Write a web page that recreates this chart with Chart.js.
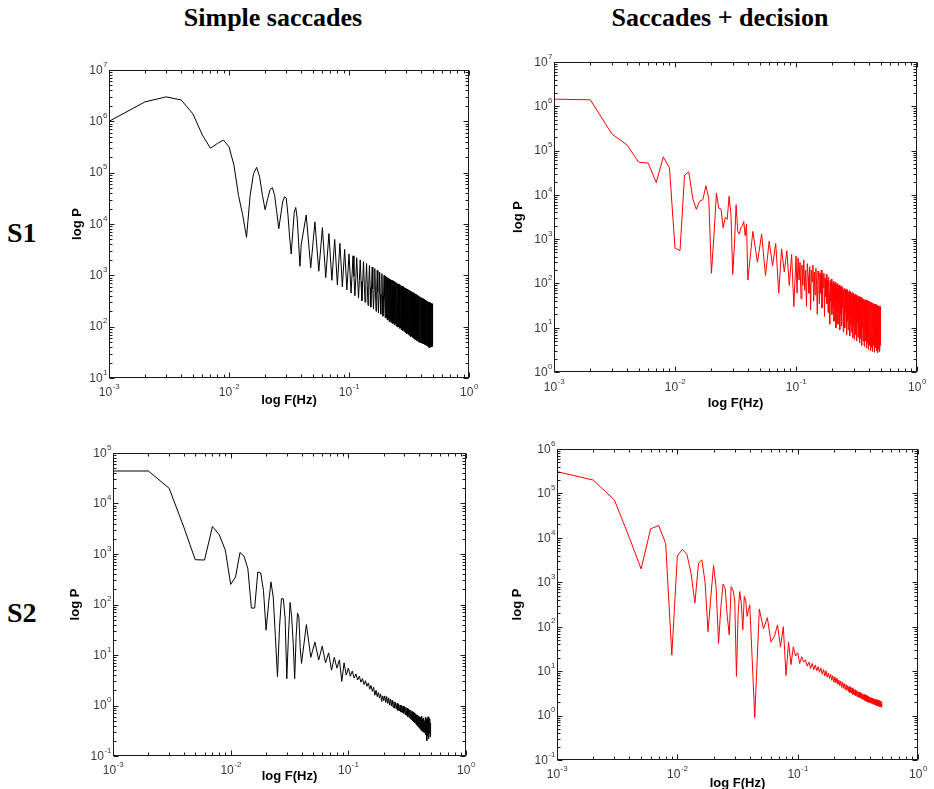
<!DOCTYPE html>
<html>
<head>
<meta charset="utf-8">
<script src="https://cdn.jsdelivr.net/npm/chart.js@4.4.1/dist/chart.umd.min.js"></script>
<style>
html, body { margin: 0; padding: 0; width: 934px; height: 789px; overflow: hidden; background: #fff; }
.head { position: absolute; font-family: "Liberation Serif", "Times New Roman", serif; font-weight: bold;
        font-size: 26px; line-height: 26px; white-space: nowrap; transform: translateX(-50%); color: #000; }
.row { position: absolute; left: 7px; font-family: "Liberation Serif", "Times New Roman", serif; font-weight: bold;
       font-size: 28px; line-height: 28px; color: #000; }
canvas { position: absolute; }
</style>
</head>
<body>
<div class="head" style="left:273px; top:5px">Simple saccades</div>
<div class="head" style="left:720px; top:5px">Saccades + decision</div>
<div class="row" style="top:219px">S1</div>
<div class="row" style="top:599px">S2</div>

<script>
// frequency grids (Hz)
const freqLow = [
    0.001, 0.002, 0.003, 0.004, 0.005, 0.006, 0.007, 0.008, 0.009, 0.010,
    0.011, 0.012, 0.013, 0.014, 0.015, 0.016, 0.017, 0.018, 0.019, 0.020,
    0.021, 0.022, 0.023, 0.024, 0.025, 0.026, 0.027, 0.028, 0.029, 0.030,
    0.031, 0.032, 0.033, 0.034, 0.035, 0.036, 0.037, 0.038, 0.039, 0.040
];
const freqMid = [
    0.044, 0.048, 0.052, 0.056, 0.060, 0.064, 0.068, 0.072, 0.076, 0.080,
    0.084, 0.088, 0.092, 0.096, 0.100
];
// finer grid for the S1 panels, where the trace fills a band
const freqDense = [
    0.102, 0.104, 0.106, 0.108, 0.110, 0.112, 0.114, 0.116, 0.118, 0.120,
    0.122, 0.124, 0.126, 0.128, 0.130, 0.132, 0.134, 0.136, 0.138, 0.140,
    0.142, 0.144, 0.146, 0.148, 0.150, 0.152, 0.154, 0.156, 0.158, 0.160,
    0.162, 0.164, 0.166, 0.168, 0.170, 0.172, 0.174, 0.176, 0.178, 0.180,
    0.182, 0.184, 0.186, 0.188, 0.190, 0.192, 0.194, 0.196, 0.198, 0.200,
    0.202, 0.204, 0.206, 0.208, 0.210, 0.212, 0.214, 0.216, 0.218, 0.220,
    0.222, 0.224, 0.226, 0.228, 0.230, 0.232, 0.234, 0.236, 0.238, 0.240,
    0.242, 0.244, 0.246, 0.248, 0.250, 0.252, 0.254, 0.256, 0.258, 0.260,
    0.262, 0.264, 0.266, 0.268, 0.270, 0.272, 0.274, 0.276, 0.278, 0.280,
    0.282, 0.284, 0.286, 0.288, 0.290, 0.292, 0.294, 0.296, 0.298, 0.300,
    0.302, 0.304, 0.306, 0.308, 0.310, 0.312, 0.314, 0.316, 0.318, 0.320,
    0.322, 0.324, 0.326, 0.328, 0.330, 0.332, 0.334, 0.336, 0.338, 0.340,
    0.342, 0.344, 0.346, 0.348, 0.350, 0.352, 0.354, 0.356, 0.358, 0.360,
    0.362, 0.364, 0.366, 0.368, 0.370, 0.372, 0.374, 0.376, 0.378, 0.380,
    0.382, 0.384, 0.386, 0.388, 0.390, 0.392, 0.394, 0.396, 0.398, 0.400,
    0.402, 0.404, 0.406, 0.408, 0.410, 0.412, 0.414, 0.416, 0.418, 0.420,
    0.422, 0.424, 0.426, 0.428, 0.430, 0.432, 0.434, 0.436, 0.438, 0.440,
    0.442, 0.444, 0.446, 0.448, 0.450, 0.452, 0.454, 0.456, 0.458, 0.460,
    0.462, 0.464, 0.466, 0.468, 0.470, 0.472, 0.474, 0.476, 0.478, 0.480,
    0.482, 0.484, 0.486, 0.488, 0.490, 0.492, 0.494, 0.496, 0.498, 0.500
];
// coarser grid for the S2 panels (0.044 .. 0.5)
const freqHigh = [
    0.044, 0.048, 0.052, 0.056, 0.060, 0.064, 0.068, 0.072, 0.076, 0.080,
    0.084, 0.088, 0.092, 0.096, 0.100, 0.104, 0.108, 0.112, 0.116, 0.120,
    0.124, 0.128, 0.132, 0.136, 0.140, 0.144, 0.148, 0.152, 0.156, 0.160,
    0.164, 0.168, 0.172, 0.176, 0.180, 0.184, 0.188, 0.192, 0.196, 0.200,
    0.204, 0.208, 0.212, 0.216, 0.220, 0.224, 0.228, 0.232, 0.236, 0.240,
    0.244, 0.248, 0.252, 0.256, 0.260, 0.264, 0.268, 0.272, 0.276, 0.280,
    0.284, 0.288, 0.292, 0.296, 0.300, 0.304, 0.308, 0.312, 0.316, 0.320,
    0.324, 0.328, 0.332, 0.336, 0.340, 0.344, 0.348, 0.352, 0.356, 0.360,
    0.364, 0.368, 0.372, 0.376, 0.380, 0.384, 0.388, 0.392, 0.396, 0.400,
    0.404, 0.408, 0.412, 0.416, 0.420, 0.424, 0.428, 0.432, 0.436, 0.440,
    0.444, 0.448, 0.452, 0.456, 0.460, 0.464, 0.468, 0.472, 0.476, 0.480,
    0.484, 0.488, 0.492, 0.496, 0.500
];

// S1, simple saccades (black)
const s1SimpleLow = [
    1.0e6, 2.4e6, 3.0e6, 2.6e6, 1.4e6, 5.4e5, 3.0e5, 3.7e5, 4.3e5, 3.2e5,
    1.4e5, 3.6e4, 1.5e4, 5.5e3, 3.6e4, 9.5e4, 1.27e5, 8.3e4, 3.6e4, 1.9e4,
    3.1e4, 4.7e4, 5.1e4, 3.6e4, 1.7e4, 8.1e3, 1.5e4, 2.7e4, 3.4e4, 3.2e4,
    1.5e4, 5.6e3, 2.6e3, 7.0e3, 1.7e4, 2.1e4, 1.3e4, 4.5e3, 1.5e3, 4.0e3
];
const s1SimpleMid = [
    1.5e4, 1.4e3, 1.1e4, 1.2e3, 8.5e3, 900, 6.5e3, 800, 5.0e3, 650,
    4.2e3, 600, 3.2e3, 520, 2.6e3
];
const s1SimpleDense = [
    1.1e3, 450, 1.0e3, 2.4e3, 950, 400, 900, 2.2e3, 850, 360,
    800, 2.0e3, 760, 320, 720, 1.85e3, 700, 300, 660, 1.7e3,
    640, 260, 620, 1.55e3, 580, 240, 560, 1.45e3, 540, 220,
    520, 1.35e3, 500, 200, 480, 1.25e3, 460, 185, 440, 1.15e3,
    430, 175, 410, 1.08e3, 400, 160, 380, 1.0e3, 370, 150,
    960, 150, 930, 135, 900, 140, 880, 125, 850, 130,
    830, 120, 810, 128, 790, 115, 770, 118, 750, 108,
    735, 112, 720, 102, 700, 106, 690, 98, 675, 100,
    660, 92, 650, 96, 635, 88, 620, 90, 610, 84,
    600, 86, 590, 80, 575, 82, 565, 76, 555, 78,
    545, 72, 535, 75, 525, 70, 515, 72, 505, 67,
    498, 69, 490, 64, 480, 66, 472, 62, 465, 63,
    458, 59, 450, 61, 443, 57, 436, 58, 430, 55,
    423, 56, 416, 53, 410, 55, 404, 51, 398, 53,
    392, 50, 386, 52, 380, 49, 375, 50, 370, 48,
    364, 49, 359, 47, 354, 48, 349, 46, 344, 47,
    339, 45, 335, 46, 330, 44, 326, 45, 322, 43,
    318, 44, 314, 42, 310, 43, 306, 41, 303, 42,
    300, 40, 297, 42, 294, 39, 291, 41, 288, 40,
    286, 42, 284, 40, 282, 44, 280, 41, 278, 45
];

// S1, saccades + decision (red)
const s1DecisionLow = [
    1.45e6, 1.4e6, 2.4e5, 1.35e5, 5.5e4, 5.2e4, 1.9e4, 7.2e4, 4.1e4, 630,
    550, 2.8e4, 3.3e4, 8.5e3, 4.7e3, 7.2e3, 7.8e3, 1.6e4, 8.5e3, 170,
    1.25e3, 1.1e4, 5.0e3, 4.8e3, 1.8e3, 3.1e3, 2.8e3, 9.3e3, 3.6e3, 160,
    750, 6.0e3, 1.5e3, 1.3e3, 1.8e3, 2.0e3, 2.5e3, 1.2e3, 2.2e3, 120
];
const s1DecisionMid = [
    1.5e3, 300, 1.3e3, 150, 900, 250, 800, 60, 600, 180,
    550, 90, 450, 30, 420
];
const s1DecisionDense = [
    60, 380, 120, 300, 45, 260, 90, 340, 70, 200,
    30, 280, 150, 60, 240, 25, 200, 110, 260, 40,
    180, 55, 220, 90, 20, 190, 140, 35, 170, 60,
    200, 28, 150, 80, 170, 18, 130, 50, 160, 35,
    120, 22, 140, 60, 12, 115, 40, 125, 20, 100,
    30, 110, 14, 95, 45, 105, 10, 90, 25, 98,
    12, 85, 35, 92, 9, 80, 20, 88, 11, 75,
    28, 82, 8, 72, 16, 78, 10, 70, 22, 74,
    7, 66, 14, 72, 9, 64, 18, 68, 6.5, 62,
    12, 65, 8, 58, 20, 62, 6, 56, 11, 60,
    5.5, 54, 15, 57, 7, 52, 10, 55, 5, 50,
    13, 53, 6, 48, 9, 51, 4.5, 47, 12, 49,
    5.5, 45, 8, 48, 4, 44, 10, 46, 5, 42,
    7, 44, 3.8, 41, 9, 43, 5, 40, 6.5, 42,
    3.5, 39, 8, 41, 4.5, 38, 6, 40, 3.2, 37,
    7, 39, 4, 36, 5.5, 38, 3, 35, 6.5, 37,
    3.6, 35, 5, 36, 2.9, 34, 6, 35, 4, 33,
    5, 34, 2.8, 33, 4.5, 34, 3.5, 32, 5.5, 33,
    3, 32, 4.2, 31, 2.7, 32, 5, 30, 3.3, 31,
    4.5, 30, 2.9, 31, 3.8, 29, 3.1, 30, 4, 28
];

// S2, simple saccades (black)
const s2SimpleLow = [
    4.4e4, 4.4e4, 2.0e4, 3.4e3, 770, 760, 3.5e3, 2.4e3, 1.2e3, 250,
    350, 1.07e3, 900, 510, 85, 85, 440, 420, 190, 31,
    105, 280, 140, 23, 3.7, 35, 130, 130, 56, 3.4,
    25, 110, 56, 17, 3.4, 23, 68, 56, 14, 6.8
];
const s2SimpleHigh = [
    40, 9, 18, 8, 15, 7, 11, 5, 9, 5.5,
    8, 3, 7, 4, 5.5, 3.8, 4.8, 3.5, 4.2, 3.2,
    3.8, 2.9, 3.4, 2.6, 3.1, 2.4, 2.8, 2.1, 2.5, 1.9,
    2.3, 1.6, 2.0, 1.5, 1.8, 1.4, 1.7, 1.2, 1.55, 1.25,
    1.55, 1.15, 1.5, 1.1, 1.42, 1.02, 1.35, 0.98, 1.28, 0.92,
    1.2, 0.88, 1.15, 0.85, 1.1, 0.8, 1.05, 0.78, 1.02, 0.74,
    1.0, 0.72, 0.97, 0.7, 0.95, 0.66, 0.92, 0.64, 0.88, 0.6,
    0.85, 0.58, 0.82, 0.55, 0.8, 0.52, 0.76, 0.5, 0.74, 0.48,
    0.7, 0.45, 0.68, 0.42, 0.66, 0.4, 0.64, 0.38, 0.62, 0.36,
    0.6, 0.34, 0.58, 0.32, 0.62, 0.31, 0.55, 0.3, 0.57, 0.29,
    0.5, 0.3, 0.58, 0.26, 0.52, 0.2, 0.55, 0.25, 0.6, 0.22,
    0.5, 0.28, 0.55, 0.24, 0.45
];

// S2, saccades + decision (red)
const s2DecisionLow = [
    3.1e5, 2.0e5, 7.1e4, 1.0e4, 2.0e3, 1.6e4, 1.9e4, 7.5e3, 23, 3.9e3,
    5.5e3, 4.3e3, 1.6e3, 340, 2.7e3, 3.2e3, 1.0e3, 78, 480, 2.4e3,
    790, 42, 280, 910, 720, 170, 65, 800, 670, 400,
    7.6, 200, 620, 340, 85, 480, 400, 170, 240, 310
];
const s2DecisionHigh = [
    0.9, 250, 90, 160, 45, 60, 110, 35, 100, 8,
    45, 14, 35, 22, 26, 15, 21, 16, 18, 13,
    16, 11.4, 15, 10.8, 13.8, 10.2, 12.6, 9.4, 11.8, 8.5,
    10.9, 7.8, 10.2, 7.3, 9.1, 6.8, 8.5, 6.2, 7.9, 5.6,
    7.4, 5.4, 7.0, 5.0, 6.3, 4.7, 6.0, 4.3, 5.6, 4.1,
    5.3, 3.9, 5.0, 3.7, 4.7, 3.5, 4.5, 3.3, 4.3, 3.2,
    4.2, 3.0, 3.9, 2.9, 3.8, 2.8, 3.6, 2.65, 3.5, 2.6,
    3.4, 2.5, 3.3, 2.4, 3.2, 2.35, 3.05, 2.3, 3.0, 2.2,
    2.9, 2.15, 2.85, 2.05, 2.75, 2.0, 2.7, 1.95, 2.6, 1.95,
    2.55, 1.9, 2.5, 1.85, 2.45, 1.8, 2.4, 1.78, 2.35, 1.75,
    2.3, 1.7, 2.3, 1.68, 2.25, 1.65, 2.2, 1.62, 2.15, 1.6,
    2.12, 1.58, 2.1, 1.55, 2.05
];

// axis ranges as powers of ten
const xExpRange = [-3, 0];
const s1SimpleYExp = [1, 7];
const s1DecisionYExp = [0, 7];
const s2SimpleYExp = [-1, 5];
const s2DecisionYExp = [-1, 6];

const xTitle = 'log F(Hz)';
const yTitle = 'log P';

const LABEL_FONT = '"Liberation Sans", Arial, sans-serif';

// draws "10" with a raised exponent
function powLabel(ctx, exp, x, y, align) {
    ctx.font = '12px ' + LABEL_FONT;
    const wb = ctx.measureText('10').width;
    ctx.font = '8px ' + LABEL_FONT;
    const es = String(exp);
    const we = ctx.measureText(es).width;
    const left = align === 'center' ? x - (wb + we) / 2 : x - wb - we;
    ctx.textAlign = 'left';
    ctx.textBaseline = 'middle';
    ctx.font = '12px ' + LABEL_FONT;
    ctx.fillText('10', left, y);
    ctx.font = '8px ' + LABEL_FONT;
    ctx.fillText(es, left + wb + 0.5, y - 6);
}

// matlab-like box with inward ticks and 10^n labels
const framePlugin = {
    id: 'frame',
    afterDraw(chart, args, opts) {
        const { ctx, chartArea: a } = chart;
        const xs = chart.scales.x, ys = chart.scales.y;
        const L = Math.round(a.left) + 0.5, R = Math.round(a.right) - 0.5;
        const T = Math.round(a.top) + 0.5, B = Math.round(a.bottom) - 0.5;
        ctx.save();
        ctx.strokeStyle = '#1a1a1a';
        ctx.lineWidth = 1;
        ctx.strokeRect(L, T, R - L, B - T);

        ctx.beginPath();
        for (let e = xExpRange[0]; e <= xExpRange[1]; e++) {
            for (let m = 1; m <= 9; m++) {
                const v = m * Math.pow(10, e);
                if (v < xs.min * 0.999 || v > xs.max * 1.001) continue;
                const px = Math.round(xs.getPixelForValue(v)) + 0.5;
                const len = m === 1 ? 5 : 3;
                ctx.moveTo(px, B); ctx.lineTo(px, B - len);
                ctx.moveTo(px, T); ctx.lineTo(px, T + len);
            }
        }
        for (let e = opts.yExp[0]; e <= opts.yExp[1]; e++) {
            for (let m = 1; m <= 9; m++) {
                const v = m * Math.pow(10, e);
                if (v < ys.min * 0.999 || v > ys.max * 1.001) continue;
                const py = Math.round(ys.getPixelForValue(v)) + 0.5;
                const len = m === 1 ? 5 : 3;
                ctx.moveTo(L, py); ctx.lineTo(L + len, py);
                ctx.moveTo(R, py); ctx.lineTo(R - len, py);
            }
        }
        ctx.stroke();

        ctx.fillStyle = '#3a3a3a';
        for (let e = xExpRange[0]; e <= xExpRange[1]; e++) {
            powLabel(ctx, e, xs.getPixelForValue(Math.pow(10, e)), a.bottom + opts.xLabelGap, 'center');
        }
        for (let e = opts.yExp[0]; e <= opts.yExp[1]; e++) {
            powLabel(ctx, e, a.left - 2, ys.getPixelForValue(Math.pow(10, e)) + 0.5, 'right');
        }

        ctx.fillStyle = '#000';
        ctx.font = 'bold 13px ' + LABEL_FONT;
        ctx.textAlign = 'center';
        ctx.textBaseline = 'middle';
        ctx.fillText(xTitle, (a.left + a.right) / 2, a.bottom + opts.xTitleGap);
        ctx.translate(a.left - opts.yTitleGap, (a.top + a.bottom) / 2);
        ctx.rotate(-Math.PI / 2);
        ctx.fillText(yTitle, 0, 0);
        ctx.restore();
    }
};

const freqS1 = freqLow.concat(freqMid, freqDense);
const freqS2 = freqLow.concat(freqHigh);

const panels = [
    { freq: freqS1, power: s1SimpleLow.concat(s1SimpleMid, s1SimpleDense), yExp: s1SimpleYExp, color: '#000000',
      box: [109, 70, 469, 378], xLabelGap: 14.5, xTitleGap: 22, yTitleGap: 32 },
    { freq: freqS1, power: s1DecisionLow.concat(s1DecisionMid, s1DecisionDense), yExp: s1DecisionYExp, color: '#ff0000',
      box: [554, 62, 917, 372], xLabelGap: 15.5, xTitleGap: 31, yTitleGap: 36 },
    { freq: freqS2, power: s2SimpleLow.concat(s2SimpleHigh), yExp: s2SimpleYExp, color: '#000000',
      box: [113, 453, 466, 756], xLabelGap: 14.5, xTitleGap: 20, yTitleGap: 38 },
    { freq: freqS2, power: s2DecisionLow.concat(s2DecisionHigh), yExp: s2DecisionYExp, color: '#ff0000',
      box: [557, 449, 918, 760], xLabelGap: 15, xTitleGap: 23, yTitleGap: 40 }
];

const PAD = { left: 60, top: 15, right: 15, bottom: 45 };

panels.forEach(p => {
    const [l, t, r, b] = p.box;
    const canvas = document.createElement('canvas');
    canvas.width = (r - l) + PAD.left + PAD.right;
    canvas.height = (b - t) + PAD.top + PAD.bottom;
    canvas.style.left = (l - PAD.left) + 'px';
    canvas.style.top = (t - PAD.top) + 'px';
    document.body.appendChild(canvas);

    const points = p.freq.map((f, i) => ({ x: f, y: p.power[i] }));

    new Chart(canvas.getContext('2d'), {
        type: 'line',
        data: {
            datasets: [{
                data: points,
                borderColor: p.color,
                borderWidth: 1,
                pointRadius: 0,
                tension: 0,
                fill: false
            }]
        },
        options: {
            responsive: false,
            animation: false,
            layout: { padding: PAD },
            plugins: {
                legend: { display: false },
                tooltip: { enabled: false },
                frame: { yExp: p.yExp, xLabelGap: p.xLabelGap, xTitleGap: p.xTitleGap, yTitleGap: p.yTitleGap }
            },
            scales: {
                x: { type: 'logarithmic', min: Math.pow(10, xExpRange[0]), max: Math.pow(10, xExpRange[1]), display: false },
                y: { type: 'logarithmic', min: Math.pow(10, p.yExp[0]), max: Math.pow(10, p.yExp[1]), display: false }
            }
        },
        plugins: [framePlugin]
    });
});
</script>
</body>
</html>
